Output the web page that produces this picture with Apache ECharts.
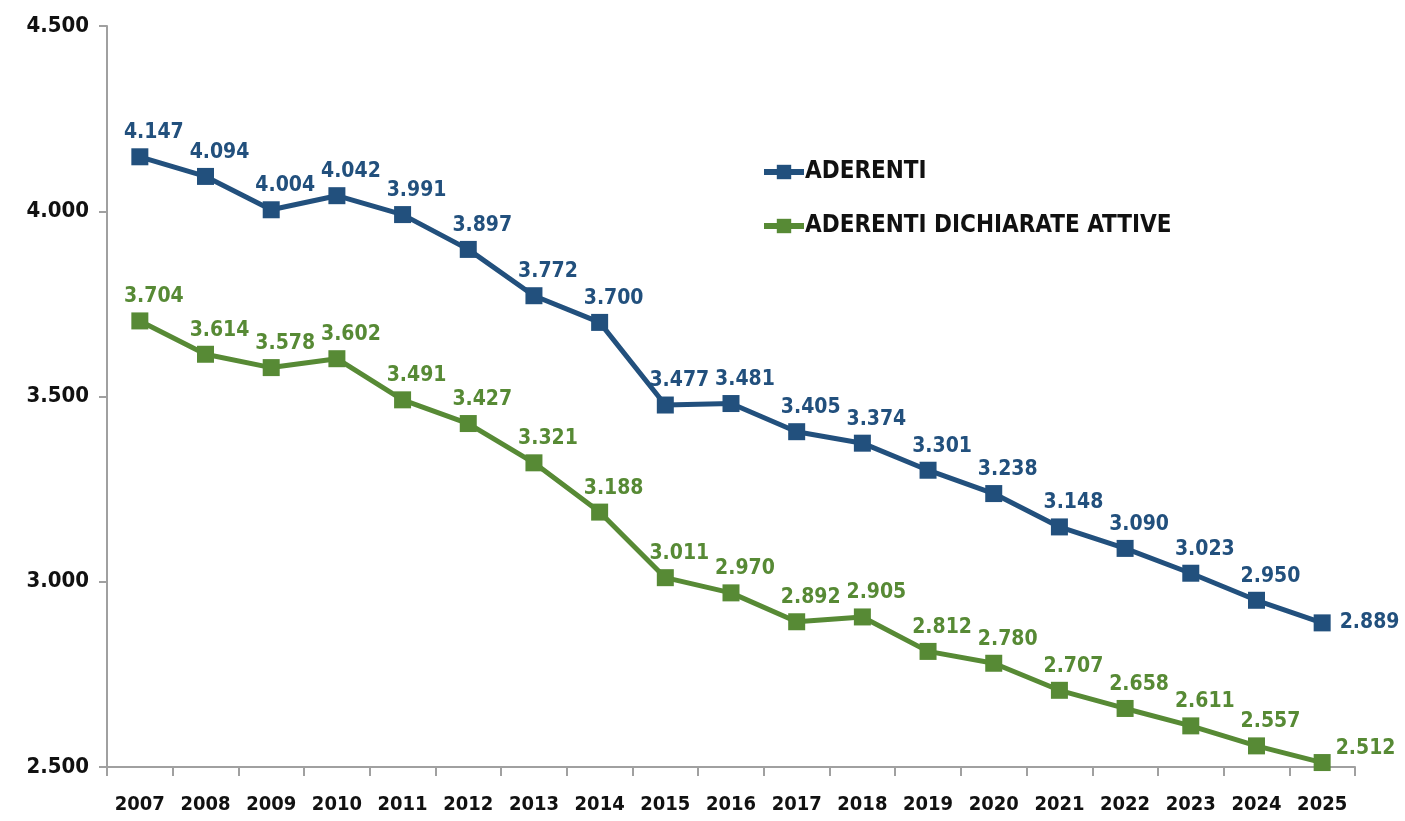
<!DOCTYPE html>
<html>
<head>
<meta charset="utf-8">
<script src="https://cdn.jsdelivr.net/npm/echarts@6/dist/echarts.min.js"></script>
<style>
	html, body { margin: 0; padding: 0; background: #fff; }
	#chart { width: 1405px; height: 821px; }
</style>
</head>
<body>
<div id="chart"></div>
<script>
// anni sull'asse x
var years = ['2007', '2008', '2009', '2010', '2011', '2012', '2013', '2014', '2015', '2016',
	'2017', '2018', '2019', '2020', '2021', '2022', '2023', '2024', '2025'];
// aderenti totali
var aderenti = [4147, 4094, 4004, 4042, 3991, 3897, 3772, 3700, 3477, 3481,
	3405, 3374, 3301, 3238, 3148, 3090, 3023, 2950, 2889];
// aderenti dichiarate attive
var attive = [3704, 3614, 3578, 3602, 3491, 3427, 3321, 3188, 3011, 2970,
	2892, 2905, 2812, 2780, 2707, 2658, 2611, 2557, 2512];
// tacche asse y
var yTicks = [2500, 3000, 3500, 4000, 4500];

var FONT = "'DejaVu Sans Condensed', 'Liberation Sans', sans-serif";
var BLUE = '#22507d';
var GREEN = '#578a35';

function fmt(v) {
	// separatore migliaia italiano
	return String(v).replace(/\B(?=(\d{3})+(?!\d))/g, '.');
}

function buildData(values, lastLabel) {
	return values.map(function (v, i) {
		if (i === values.length - 1) {
			return { value: v, label: lastLabel };
		}
		return v;
	});
}

var myChart = echarts.init(document.getElementById('chart'));

var option = {
	animation: false,
	textStyle: { fontFamily: FONT },
	legend: {
		orient: 'vertical',
		left: 756,
		top: 155,
		itemGap: 30,
		itemWidth: 40,
		itemHeight: 18,
		lineStyle: { width: 6 },
		textStyle: { fontFamily: FONT, fontSize: 24, fontWeight: 'bold', color: '#111', padding: [0, 0, 0, -4] },
		data: ['ADERENTI', 'ADERENTI DICHIARATE ATTIVE']
	},
	grid: { left: 107, right: 50, top: 26, bottom: 54, containLabel: false },
	xAxis: {
		type: 'category',
		data: years,
		boundaryGap: true,
		axisLine: { lineStyle: { color: '#a0a0a0', width: 2 } },
		axisTick: { show: true, inside: false, length: 9, interval: 0, lineStyle: { color: '#a0a0a0', width: 2 } },
		axisLabel: { interval: 0, fontFamily: FONT, fontSize: 20, fontWeight: 'bold', color: '#111', margin: 28 },
		splitLine: { show: false }
	},
	yAxis: {
		type: 'value',
		min: yTicks[0],
		max: yTicks[yTicks.length - 1],
		interval: 500,
		axisLine: { show: true, lineStyle: { color: '#a0a0a0', width: 2 } },
		axisTick: { show: true, length: 8, lineStyle: { color: '#a0a0a0', width: 2 } },
		axisLabel: {
			fontFamily: FONT, fontSize: 22, fontWeight: 'bold', color: '#111', margin: 18,
			formatter: function (v) { return fmt(v.toFixed(0)); }
		},
		splitLine: { show: false }
	},
	series: [
		{
			name: 'ADERENTI',
			type: 'line',
			data: buildData(aderenti, { position: 'right', offset: [4, 0] }),
			symbol: 'rect',
			symbolSize: 17,
			lineStyle: { color: BLUE, width: 5 },
			itemStyle: { color: BLUE },
			label: {
				show: true,
				position: 'top',
				distance: 5,
				offset: [14, 0],
				fontFamily: FONT,
				fontSize: 21,
				fontWeight: 'bold',
				color: BLUE,
				formatter: function (p) { return fmt(p.value); }
			},
			z: 3
		},
		{
			name: 'ADERENTI DICHIARATE ATTIVE',
			type: 'line',
			data: buildData(attive, { position: 'right', offset: [0, -14] }),
			symbol: 'rect',
			symbolSize: 17,
			lineStyle: { color: GREEN, width: 5 },
			itemStyle: { color: GREEN },
			label: {
				show: true,
				position: 'top',
				distance: 5,
				offset: [14, 0],
				fontFamily: FONT,
				fontSize: 21,
				fontWeight: 'bold',
				color: GREEN,
				formatter: function (p) { return fmt(p.value); }
			},
			z: 2
		}
	]
};

myChart.setOption(option, { notMerge: true });
</script>
</body>
</html>
